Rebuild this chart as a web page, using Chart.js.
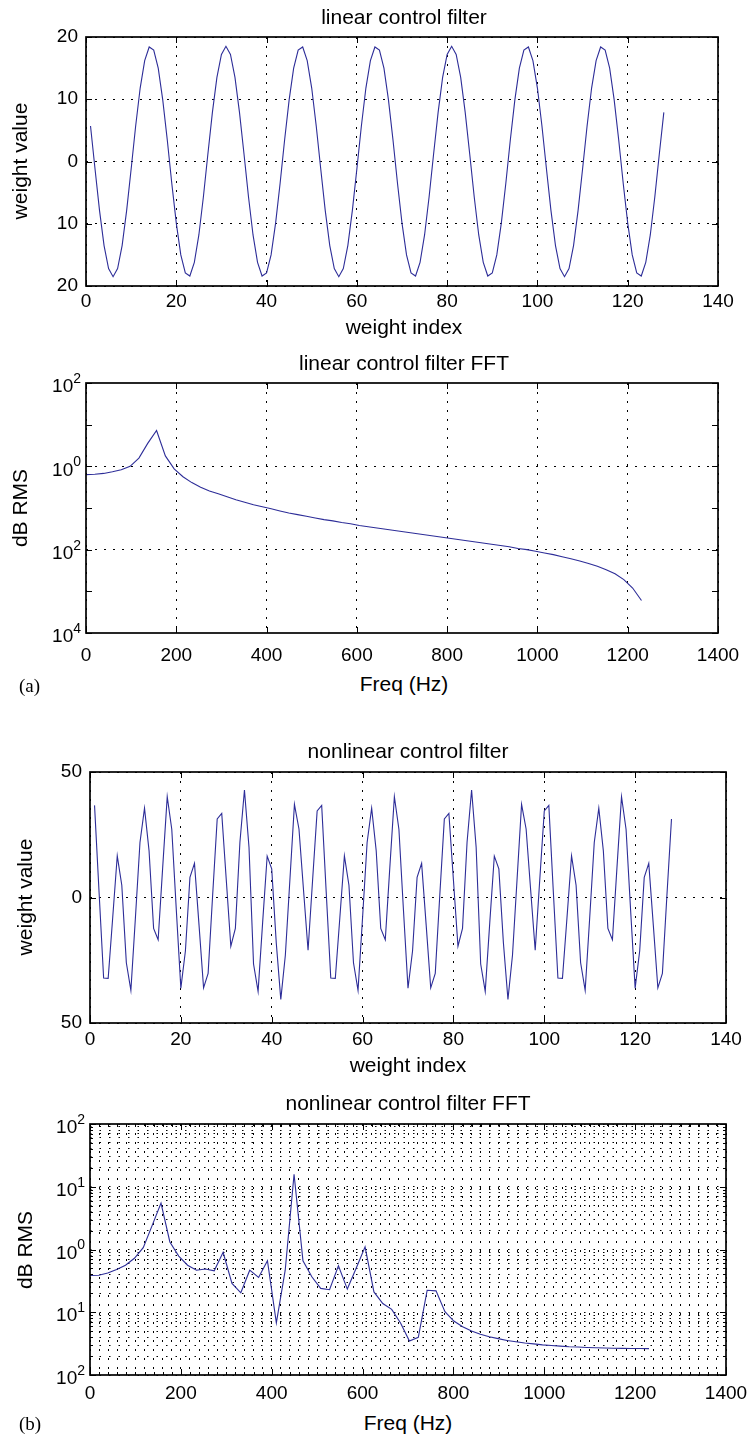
<!DOCTYPE html>
<html>
<head>
<meta charset="utf-8">
<script src="https://cdn.jsdelivr.net/npm/chart.js@4.4.1/dist/chart.umd.min.js"></script>
<style>
  body { margin: 0; background: #fff; }
  #page { position: relative; width: 755px; height: 1439px; overflow: hidden;
          font-family: "Liberation Sans", Arial, Helvetica, sans-serif; color: #000; }
  canvas { position: absolute; left: 0; }
  .lbl { position: absolute; font-size: 21px; white-space: nowrap; transform: translate(-50%, -50%); }
  .ylbl { position: absolute; font-size: 21px; white-space: nowrap; transform: translate(-50%, -50%) rotate(-90deg); }
  .tag { position: absolute; font-family: "Liberation Serif", "Times New Roman", serif; font-size: 19px; transform: translateY(-50%); }
</style>
</head>
<body>
<div id="page">
  <canvas id="c1" width="755" height="320"></canvas>
  <canvas id="c2" width="755" height="340"></canvas>
  <canvas id="c3" width="755" height="360"></canvas>
  <canvas id="c4" width="755" height="330"></canvas>

  <div class="lbl" style="left:404px;top:17px">linear control filter</div>
  <div class="lbl" style="left:404px;top:327px">weight index</div>
  <div class="ylbl" style="left:20px;top:161px">weight value</div>

  <div class="lbl" style="left:404px;top:363px">linear control filter FFT</div>
  <div class="lbl" style="left:404px;top:684px">Freq (Hz)</div>
  <div class="ylbl" style="left:20px;top:508px">dB RMS</div>
  <div class="tag" style="left:19px;top:686px">(a)</div>

  <div class="lbl" style="left:408px;top:751px">nonlinear control filter</div>
  <div class="lbl" style="left:408px;top:1065px">weight index</div>
  <div class="ylbl" style="left:25px;top:897px">weight value</div>

  <div class="lbl" style="left:408px;top:1103px">nonlinear control filter FFT</div>
  <div class="lbl" style="left:408px;top:1423px">Freq (Hz)</div>
  <div class="ylbl" style="left:25px;top:1250px">dB RMS</div>
  <div class="tag" style="left:19px;top:1424px">(b)</div>
</div>

<script>
// ---- data ----

// (a) linear control filter, weights 1..128
const linearWeights = [
  5.7, -1.2, -7.9, -13.5, -17.2, -18.5, -17.2, -13.5, -7.9, -1.2,
  5.7, 11.8, 16.2, 18.4, 17.9, 15.0, 9.9, 3.5, -3.5, -9.9,
  -15.0, -17.9, -18.4, -16.2, -11.8, -5.7, 1.2, 7.9, 13.5, 17.2,
  18.5, 17.2, 13.5, 7.9, 1.2, -5.7, -11.8, -16.2, -18.4, -17.9,
  -15.0, -9.9, -3.5, 3.5, 9.9, 15.0, 17.9, 18.4, 16.2, 11.8,
  5.7, -1.2, -7.9, -13.5, -17.2, -18.5, -17.2, -13.5, -7.9, -1.2,
  5.7, 11.8, 16.2, 18.4, 17.9, 15.0, 9.9, 3.5, -3.5, -9.9,
  -15.0, -17.9, -18.4, -16.2, -11.8, -5.7, 1.2, 7.9, 13.5, 17.2,
  18.5, 17.2, 13.5, 7.9, 1.2, -5.7, -11.8, -16.2, -18.4, -17.9,
  -15.0, -9.9, -3.5, 3.5, 9.9, 15.0, 17.9, 18.4, 16.2, 11.8,
  5.7, -1.2, -7.9, -13.5, -17.2, -18.5, -17.2, -13.5, -7.9, -1.2,
  5.7, 11.8, 16.2, 18.4, 17.9, 15.0, 9.9, 3.5, -3.5, -9.9,
  -15.0, -17.9, -18.4, -16.2, -11.8, -5.7, 1.2, 7.9
];

// (b) nonlinear control filter, weights 1..128
const nonlinearWeights = [
  36.7, 2, -32.1, -32.2, -8, 16.6, 4.9, -26, -37, -8,
  21.9, 35.6, 18.6, -12.3, -16.8, 12, 40.2, 27.2, -5, -36.1,
  -21.3, 8.0, 13.6, -11, -36, -30.2, 1, 31.3, 33.5, 7,
  -19.4, -12.3, 22, 42.8, 20, -26.5, -37.4, -10, 16.5, 11.4,
  -18, -40.6, -23, 7, 37.1, 27.3, 3, -21, 7, 34.5,
  36.7, 2, -32.1, -32.2, -8, 16.6, 4.9, -26, -37, -8,
  21.9, 35.6, 18.6, -12.3, -16.8, 12, 40.2, 27.2, -5, -36.1,
  -21.3, 8.0, 13.6, -11, -36, -30.2, 1, 31.3, 33.5, 7,
  -19.4, -12.3, 22, 42.8, 20, -26.5, -37.4, -10, 16.5, 11.4,
  -18, -40.6, -23, 7, 37.1, 27.3, 3, -21, 7, 34.5,
  36.7, 2, -32.1, -32.2, -8, 16.6, 4.9, -26, -37, -8,
  21.9, 35.6, 18.6, -12.3, -16.8, 12, 40.2, 27.2, -5, -36.1,
  -21.3, 8.0, 13.6, -11, -36, -30.2, 1, 31.3
];

// FFT bins (Hz)
const freqHz = [
  0, 19.5, 39.1, 58.6, 78.1, 97.7, 117.2, 136.7, 156.3, 175.8,
  195.3, 214.8, 234.4, 253.9, 273.4, 293.0, 312.5, 332.0, 351.6, 371.1,
  390.6, 410.2, 429.7, 449.2, 468.8, 488.3, 507.8, 527.3, 546.9, 566.4,
  585.9, 605.5, 625.0, 644.5, 664.1, 683.6, 703.1, 722.7, 742.2, 761.7,
  781.3, 800.8, 820.3, 839.8, 859.4, 878.9, 898.4, 918.0, 937.5, 957.0,
  976.6, 996.1, 1015.6, 1035.2, 1054.7, 1074.2, 1093.8, 1113.3, 1132.8, 1152.3,
  1171.9, 1191.4, 1210.9, 1230.5
];

const linearFFT = [
  0.631, 0.646, 0.676, 0.741, 0.832, 1.00, 1.58, 3.55, 7.24, 1.78,
  0.871, 0.562, 0.407, 0.316, 0.257, 0.219, 0.186, 0.158, 0.138, 0.120,
  0.107, 0.0955, 0.0851, 0.0759, 0.0692, 0.0631, 0.0575, 0.0525, 0.0490, 0.0447,
  0.0417, 0.0380, 0.0355, 0.0331, 0.0309, 0.0288, 0.0269, 0.0251, 0.0234, 0.0219,
  0.0204, 0.0191, 0.0178, 0.0166, 0.0155, 0.0145, 0.0135, 0.0126, 0.0117, 0.0107,
  0.0100, 0.00912, 0.00832, 0.00759, 0.00676, 0.00603, 0.00537, 0.00468, 0.00398, 0.00331,
  0.00263, 0.00191, 0.00120, 0.000603
];

const nonlinearFFT = [
  0.385, 0.389, 0.422, 0.479, 0.562, 0.724, 1.07, 2.40, 5.50, 1.32,
  0.785, 0.562, 0.468, 0.490, 0.457, 0.902, 0.288, 0.204, 0.468, 0.359,
  0.661, 0.0676, 0.468, 15.8, 0.661, 0.367, 0.240, 0.229, 0.550, 0.234,
  0.501, 1.10, 0.211, 0.138, 0.111, 0.0676, 0.0347, 0.0398, 0.224, 0.219,
  0.102, 0.0724, 0.0589, 0.0501, 0.0447, 0.0407, 0.0380, 0.0355, 0.0339, 0.0324,
  0.0313, 0.0302, 0.0295, 0.0288, 0.0282, 0.0279, 0.0275, 0.0272, 0.0269, 0.0267,
  0.0266, 0.0265, 0.0264, 0.0263
];

// ticks and tick labels (the figure drops the minus signs)
const weightTicks = [0, 20, 40, 60, 80, 100, 120, 140];
const freqTicks = [0, 200, 400, 600, 800, 1000, 1200, 1400];
const linYTicks = [-20, -10, 0, 10, 20];
const linYLabels = ['20', '10', '0', '10', '20'];
const nonYTicks = [-50, 0, 50];
const nonYLabels = ['50', '0', '50'];
const fftDecadesA = [0.0001, 0.001, 0.01, 0.1, 1, 10, 100];
const fftPowersA = [[100, '2'], [1, '0'], [0.01, '2'], [0.0001, '4']];
const fftDecadesB = [0.01, 0.1, 1, 10, 100];
const fftPowersB = [[100, '2'], [10, '1'], [1, '0'], [0.1, '1'], [0.01, '2']];

const FONT = '"Liberation Sans", Arial, Helvetica, sans-serif';
const LINE = '#2d2d98';
const DOTS = [2, 7];

function toXY(xs, ys) {
    return ys.map((v, i) => ({ x: xs ? xs[i] : i + 1, y: v }));
}

// box, inward ticks and 10^n labels, MATLAB style
function makeFrame(xMajor, yMajor, powers) {
    return {
        id: 'frame',
        afterDraw(chart) {
            const ctx = chart.ctx, a = chart.chartArea;
            const sx = chart.scales.x, sy = chart.scales.y;
            ctx.save();
            ctx.strokeStyle = '#000';
            ctx.lineWidth = 1;
            ctx.beginPath();
            sx.ticks.forEach(t => {
                const len = xMajor(t.value) ? 6 : 3;
                const px = Math.round(sx.getPixelForValue(t.value)) + 0.5;
                ctx.moveTo(px, a.top); ctx.lineTo(px, a.top + len);
                ctx.moveTo(px, a.bottom); ctx.lineTo(px, a.bottom - len);
            });
            sy.ticks.forEach(t => {
                const len = yMajor(t.value) ? 6 : 3;
                const py = Math.round(sy.getPixelForValue(t.value)) + 0.5;
                ctx.moveTo(a.left, py); ctx.lineTo(a.left + len, py);
                ctx.moveTo(a.right, py); ctx.lineTo(a.right - len, py);
            });
            ctx.stroke();
            ctx.lineWidth = 1.7;
            ctx.strokeRect(a.left, a.top, a.right - a.left, a.bottom - a.top);

            if (powers) {
                ctx.fillStyle = '#000';
                ctx.textBaseline = 'middle';
                powers.forEach(p => {
                    const py = sy.getPixelForValue(p[0]);
                    const right = a.left - 5;
                    ctx.font = '14px ' + FONT;
                    const ew = ctx.measureText(p[1]).width;
                    ctx.textAlign = 'left';
                    ctx.fillText(p[1], right - ew, py - 4);
                    ctx.font = '19px ' + FONT;
                    ctx.textAlign = 'right';
                    ctx.fillText('10', right - ew, py + 4);
                });
            }
            ctx.restore();
        }
    };
}

function makeChart(id, canvasTop, area, points, xCfg, yCfg, frame) {
    const canvas = document.getElementById(id);
    const h = canvas.height;
    canvas.style.top = canvasTop + 'px';
    xCfg.afterFit = s => { s.height = canvasTop + h - area.bottom; };
    yCfg.afterFit = s => { s.width = area.left; };
    return new Chart(canvas.getContext('2d'), {
        type: 'line',
        data: {
            datasets: [{
                data: points,
                borderColor: LINE,
                borderWidth: 1.1,
                pointRadius: 0,
                tension: 0,
                fill: false
            }]
        },
        options: {
            responsive: false,
            animation: false,
            devicePixelRatio: 1,
            layout: { padding: { left: 0, top: area.top - canvasTop, right: 755 - area.right, bottom: 0 } },
            plugins: { legend: { display: false }, tooltip: { enabled: false } },
            scales: { x: xCfg, y: yCfg }
        },
        plugins: [frame]
    });
}

function xAxis(min, max, tickValues, label, pad) {
    return {
        type: 'linear', min: min, max: max,
        afterBuildTicks: s => { s.ticks = tickValues.map(v => ({ value: v })); },
        ticks: {
            autoSkip: false, maxRotation: 0, padding: pad, color: '#000',
            font: { family: FONT, size: 19 },
            callback: v => label(v)
        },
        grid: { drawTicks: false, color: '#000', lineWidth: 1 },
        border: { display: false, dash: DOTS }
    };
}

// (a) top: linear control filter
makeChart('c1', 0, { left: 86, right: 718, top: 37, bottom: 286 },
    toXY(null, linearWeights),
    xAxis(0, 140, weightTicks, v => String(v), 4),
    {
        type: 'linear', min: -20, max: 20,
        afterBuildTicks: s => { s.ticks = linYTicks.map(v => ({ value: v })); },
        ticks: { padding: 8, color: '#000', font: { family: FONT, size: 19 }, callback: (v, i) => linYLabels[i] },
        grid: { drawTicks: false, color: '#000', lineWidth: 1 },
        border: { display: false, dash: DOTS }
    },
    makeFrame(() => true, () => true, null));

// (a) bottom: linear control filter FFT
makeChart('c2', 330, { left: 86, right: 718, top: 383, bottom: 633 },
    toXY(freqHz, linearFFT),
    xAxis(0, 1400, freqTicks, v => String(v), 11),
    {
        type: 'logarithmic', min: 0.0001, max: 100,
        afterBuildTicks: s => { s.ticks = fftDecadesA.map(v => ({ value: v })); },
        ticks: { display: false },
        grid: {
            drawTicks: false, lineWidth: 1,
            color: c => (c.tick && (c.tick.value === 1 || c.tick.value === 0.01)) ? '#000' : 'rgba(0,0,0,0)'
        },
        border: { display: false, dash: DOTS }
    },
    makeFrame(() => true, () => true, fftPowersA));

// (b) top: nonlinear control filter
makeChart('c3', 700, { left: 90, right: 726, top: 772, bottom: 1023 },
    toXY(null, nonlinearWeights),
    xAxis(0, 140, weightTicks, v => String(v), 5),
    {
        type: 'linear', min: -50, max: 50,
        afterBuildTicks: s => { s.ticks = nonYTicks.map(v => ({ value: v })); },
        ticks: { padding: 8, color: '#000', font: { family: FONT, size: 19 }, callback: (v, i) => nonYLabels[i] },
        grid: { drawTicks: false, color: '#000', lineWidth: 1 },
        border: { display: false, dash: DOTS }
    },
    makeFrame(() => true, () => true, null));

// (b) bottom: nonlinear control filter FFT, with minor grid
var minorFreq = [];
for (let f = 0; f <= 1400; f += 20) minorFreq.push(f);
var minorLog = [];
fftDecadesB.forEach(d => {
    if (d === 100) { minorLog.push(100); return; }
    for (let m = 1; m <= 9; m++) minorLog.push(+(m * d).toPrecision(3));
});

makeChart('c4', 1080, { left: 90, right: 726, top: 1124, bottom: 1375 },
    toXY(freqHz, nonlinearFFT),
    xAxis(0, 1400, minorFreq, v => (v % 200 === 0 ? String(v) : ''), 7),
    {
        type: 'logarithmic', min: 0.01, max: 100,
        afterBuildTicks: s => { s.ticks = minorLog.map(v => ({ value: v })); },
        ticks: { display: false },
        grid: { drawTicks: false, color: '#000', lineWidth: 1 },
        border: { display: false, dash: [1.5, 8] }
    },
    makeFrame(v => v % 200 === 0, v => fftDecadesB.indexOf(v) >= 0, fftPowersB));
</script>
</body>
</html>
